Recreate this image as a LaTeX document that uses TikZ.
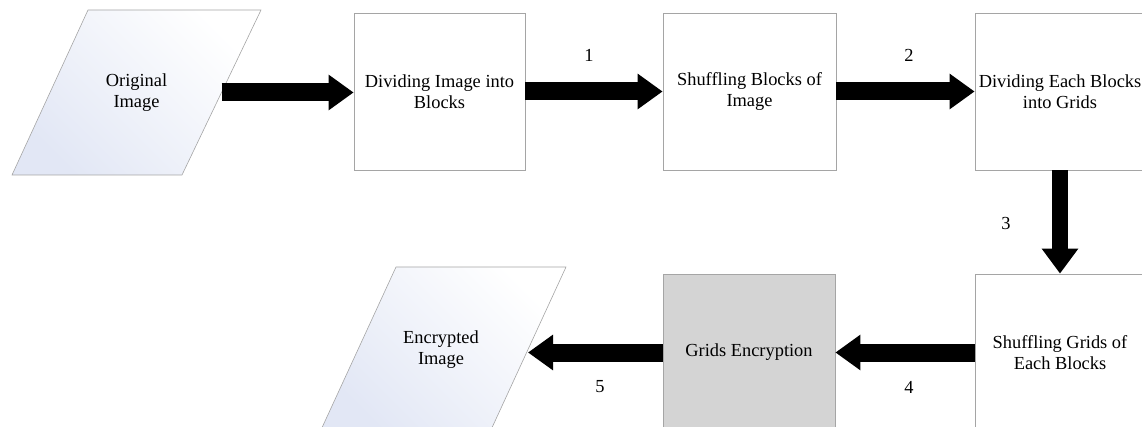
\documentclass[tikz,border=0pt]{standalone}
\usepackage{fontspec}
\setmainfont{Liberation Serif}
\usetikzlibrary{arrows.meta,calc}
\definecolor{edgegray}{RGB}{165,165,165}
\definecolor{paraBlue}{RGB}{226,231,245}
\definecolor{encgray}{RGB}{212,212,212}
\tikzset{
  txt/.style={font=\fontsize{18.4}{21.5}\selectfont},
  procbox/.style={txt, draw=edgegray, line width=0.8pt, fill=white, minimum width=171pt, minimum height=157pt, inner sep=0pt, align=center},
  ioshape/.style={draw=edgegray, line width=0.6pt, top color=white, bottom color=paraBlue, shading angle=-45},
  iotext/.style={txt, inner sep=0pt, align=center},
  bigarrow/.style={line width=18pt, -{Triangle[length=25pt,width=34pt]}},
  numlabel/.style={txt, inner sep=0pt}
}
\begin{document}
\begin{tikzpicture}[x=1pt,y=-1pt]
\useasboundingbox (0,0) rectangle (1142,427);
% Original Image parallelogram
\coordinate (oTL) at (88,10);
\coordinate (oTR) at (261,10);
\coordinate (oBR) at (182,175);
\coordinate (oBL) at (12,175);
\path[ioshape] (oTL) -- (oTR) -- (oBR) -- (oBL) -- cycle;
\node[iotext] (orig) at (136.5,92.5) {Original\\Image};
\coordinate (origR) at ($(oTR)!0.5!(oBR)$);
% Encrypted Image parallelogram
\coordinate (eTL) at (396,267);
\coordinate (eTR) at (566,267);
\coordinate (eBR) at (490,432);
\coordinate (eBL) at (320,432);
\path[ioshape] (eTL) -- (eTR) -- (eBR) -- (eBL) -- cycle;
\node[iotext] (enc) at (441,349.5) {Encrypted\\Image};
\coordinate (encR) at ($(eTR)!0.5!(eBR)$);

\node[procbox] (b1) at (439.5,91.5) {Dividing Image into\\Blocks};
\node[procbox, minimum width=173pt] (b2) at (749.5,91.5) {Shuffling Blocks of\\Image};
\node[procbox, minimum width=170pt] (b3) at (1060,91.5) {Dividing Each Blocks\\into Grids};
\node[procbox, minimum width=170pt] (b4) at (1060,352.5) {Shuffling Grids of\\Each Blocks};
\node[procbox, fill=encgray, minimum width=172pt] (b5) at (749,352.5) {Grids Encryption};

\draw[bigarrow] (origR) -- (origR -| b1.west);
\draw[bigarrow] (b1.east) -- (b2.west);
\draw[bigarrow] (b2.east) -- (b3.west);
\draw[bigarrow, line width=16pt, -{Triangle[length=25pt,width=35pt]}] (b3.south) -- (b4.north);
\draw[bigarrow] (b4.west) -- (b5.east);
\draw[bigarrow] (b5.west) -- (b5.west -| encR);

\node[numlabel] (n1) at (589,55) {1};
\node[numlabel] (n2) at (909,55) {2};
\node[numlabel] (n3) at (1006,224) {3};
\node[numlabel] (n4) at (909,387) {4};
\node[numlabel] (n5) at (600,387) {5};
\end{tikzpicture}
\end{document}
